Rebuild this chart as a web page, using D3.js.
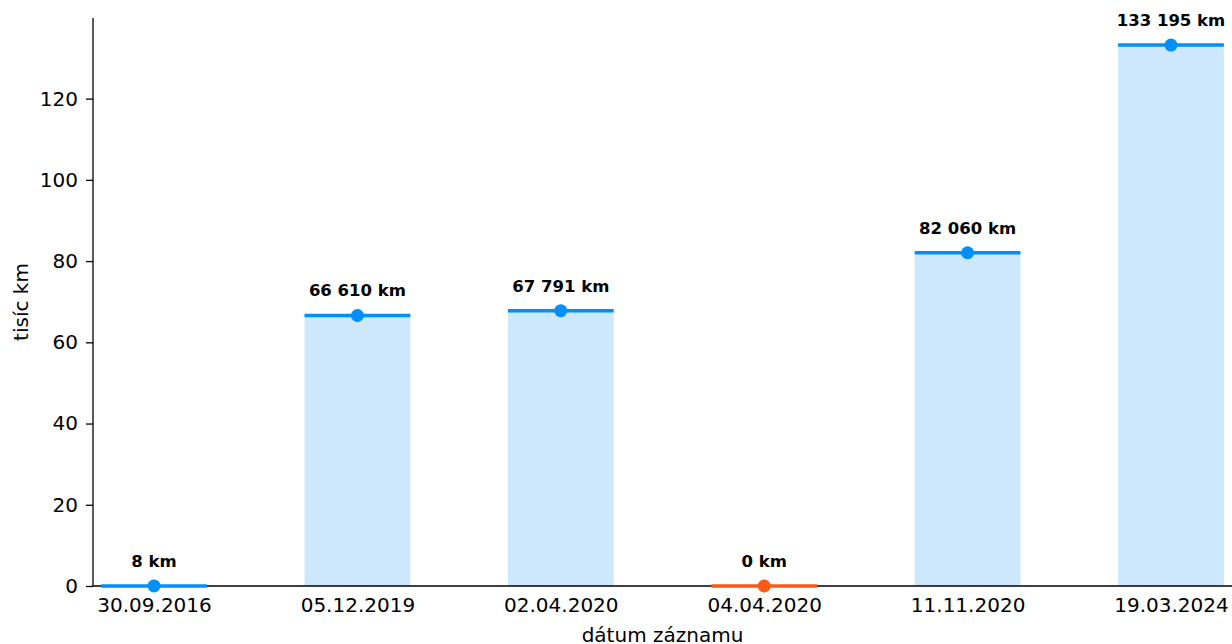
<!DOCTYPE html>
<html>
<head>
<meta charset="utf-8">
<script src="https://cdn.jsdelivr.net/npm/d3@7"></script>
<style>
  body { margin: 0; background: #fff; }
  svg { display: block; font-family: 'DejaVu Sans', sans-serif; }
  .axis text { font-size: 20px; fill: #000; }
  .axis path, .axis line { stroke: #000; stroke-width: 1.3; }
  .label { font-size: 20px; }
  .value { font-size: 16.5px; font-weight: bold; }
</style>
</head>
<body>
<script>
const WIDTH = 1232, HEIGHT = 644
const MARGINS = { top: 18, right: 0, bottom: 58, left: 93 }

// data
const dates = ['30.09.2016', '05.12.2019', '02.04.2020', '04.04.2020', '11.11.2020', '19.03.2024']
const km = [8, 66610, 67791, 0, 82060, 133195]
const yTicks = [0, 20, 40, 60, 80, 100, 120]

const BLUE = '#008ffb', FILL = '#cde8fc', ORANGE = '#fa5a16'

const data = dates.map((d, i) => ({ date: d, km: km[i] }))

const x = d3.scalePoint()
  .domain(dates)
  .range([MARGINS.left, WIDTH - MARGINS.right])
  .padding(0.3)

const y = d3.scaleLinear()
  .domain([0, d3.max(km) / 1000 * 1.05])
  .range([HEIGHT - MARGINS.bottom, MARGINS.top])

const barW = x.step() * 0.52
const fmt = (v) => d3.format(',')(v).replace(/,/g, ' ') + ' km'

const svg = d3.select('body').append('svg')
  .attr('width', WIDTH)
  .attr('height', HEIGHT)

// bars
svg.append('g').selectAll('rect')
  .data(data.filter((d) => d.km > 0))
  .enter().append('rect')
    .attr('x', (d) => x(d.date) - barW / 2)
    .attr('width', barW)
    .attr('y', (d) => y(d.km / 1000))
    .attr('height', (d) => y(0) - y(d.km / 1000))
    .attr('fill', FILL)

// axes
svg.append('g')
  .attr('class', 'axis')
  .attr('transform', 'translate(0,' + y(0) + ')')
  .call(d3.axisBottom(x).tickSize(0).tickPadding(12).tickSizeOuter(0))
  .call((g) => g.select('.domain').attr('d', 'M' + MARGINS.left + ',0H' + WIDTH))
  .selectAll('text').attr('dy', '0.71em')

svg.append('g')
  .attr('class', 'axis')
  .attr('transform', 'translate(' + MARGINS.left + ',0)')
  .call(d3.axisLeft(y).tickValues(yTicks).tickSize(7).tickPadding(8).tickSizeOuter(0))
  .call((g) => g.select('.domain').attr('d', 'M0,' + MARGINS.top + 'V' + y(0)))

svg.selectAll('.axis .tick text').attr('font-family', 'DejaVu Sans')

// value lines, points, labels
const mark = svg.append('g').selectAll('g')
  .data(data)
  .enter().append('g')
    .attr('transform', (d) => 'translate(' + x(d.date) + ',' + y(d.km / 1000) + ')')

mark.append('line')
  .attr('x1', -barW / 2)
  .attr('x2', barW / 2)
  .attr('stroke', (d) => d.km > 0 ? BLUE : ORANGE)
  .attr('stroke-width', 3.5)

mark.append('circle')
  .attr('r', 6.5)
  .attr('fill', (d) => d.km > 0 ? BLUE : ORANGE)

mark.append('text')
  .attr('class', 'value')
  .attr('text-anchor', 'middle')
  .attr('y', -19)
  .text((d) => fmt(d.km))

// axis labels
svg.append('text')
  .attr('class', 'label')
  .attr('text-anchor', 'middle')
  .attr('x', (MARGINS.left + WIDTH) / 2)
  .attr('y', 642)
  .text('dátum záznamu')

svg.append('text')
  .attr('class', 'label')
  .attr('text-anchor', 'middle')
  .attr('transform', 'translate(28,' + (MARGINS.top + y(0)) / 2 + ') rotate(-90)')
  .text('tisíc km')
</script>
</body>
</html>
